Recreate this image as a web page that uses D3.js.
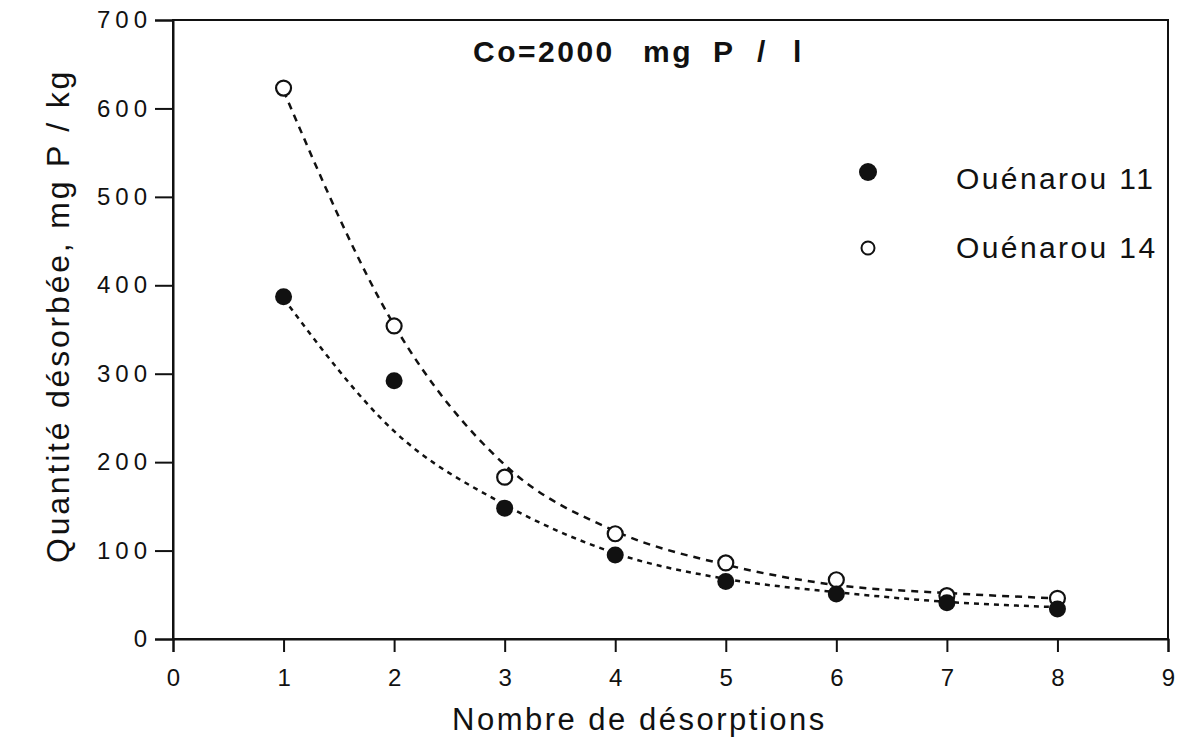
<!DOCTYPE html>
<html><head><meta charset="utf-8">
<script src="https://cdn.jsdelivr.net/npm/d3@7"></script>
<style>body{margin:0;background:#fff}svg{display:block}text{font-family:"Liberation Sans",Arial,sans-serif;fill:#111}</style>
</head><body>
<script>
const xs = [1,2,3,4,5,6,7,8];
const ouenarou11 = [387,292,148,95,65,51,41,34];
const ouenarou14 = [623,354,183,119,86,67,49,46];
const fit11 = [385,235,152,97,68,53,42,36];
const fit14 = [620,355,197,122,84,61,52,46];
const xTicks = [0,1,2,3,4,5,6,7,8,9];
const yTicks = [0,100,200,300,400,500,600,700];
const seriesNames = ["Ouénarou 11","Ouénarou 14"];
const titleWords = ["Co=2000","mg","P","/","l"];
const xTitle = "Nombre de désorptions";
const yTitle = "Quantité désorbée, mg P / kg";

const W=1184,H=741;
const svg=d3.select("body").append("svg").attr("width",W).attr("height",H);
const L=173,R=1168,T=20,B=639;
const x=d3.scaleLinear().domain([0,9]).range([L,R]);
const y=d3.scaleLinear().domain([0,700]).range([B,T]);

// frame
svg.append("rect").attr("x",L).attr("y",T).attr("width",R-L).attr("height",B-T)
  .attr("fill","none").attr("stroke","#111").attr("stroke-width",2);

const LS=5;
const xa=svg.append("g").attr("transform",`translate(0,${B})`)
  .call(d3.axisBottom(x).tickValues(xTicks).tickSize(13).tickPadding(17).tickFormat(d3.format("d")));
const ya=svg.append("g").attr("transform",`translate(${L},0)`)
  .call(d3.axisLeft(y).tickValues(yTicks).tickSize(18).tickPadding(3).tickFormat(d3.format("d")));
[xa,ya].forEach(a=>{
  a.select(".domain").attr("stroke","#111").attr("stroke-width",2);
  a.selectAll(".tick line").attr("stroke","#111").attr("stroke-width",2);
  a.selectAll(".tick text").attr("font-size",24).attr("fill","#111")
   .style("font-family","'Liberation Sans',Arial,sans-serif").attr("letter-spacing",LS+"px");
});
xa.selectAll(".tick text").attr("dx",LS/2);

// fitted dashed curves
const line=d3.line().x((d,i)=>x(xs[i])).y(d=>y(d)).curve(d3.curveMonotoneX);
svg.append("path").datum(fit14).attr("d",line).attr("fill","none").attr("stroke","#111")
  .attr("stroke-width",2.5).attr("stroke-dasharray","7,6");
svg.append("path").datum(fit11).attr("d",line).attr("fill","none").attr("stroke","#111")
  .attr("stroke-width",2.5).attr("stroke-dasharray","5,5");

// points
svg.append("g").selectAll("circle").data(ouenarou14).join("circle")
  .attr("cx",(d,i)=>x(xs[i])).attr("cy",d=>y(d)).attr("r",7.5)
  .attr("fill","#fff").attr("stroke","#111").attr("stroke-width",2.2);
svg.append("g").selectAll("circle").data(ouenarou11).join("circle")
  .attr("cx",(d,i)=>x(xs[i])).attr("cy",d=>y(d)).attr("r",8.5)
  .attr("fill","#111");

// title
const titleX=[473,643,713,757,793];
const tt=svg.append("text").attr("y",62).attr("font-size",30).attr("font-weight","bold").attr("letter-spacing","2.5px");
tt.selectAll("tspan").data(titleWords).join("tspan").attr("x",(d,i)=>titleX[i]).text(d=>d);

// legend
svg.append("circle").attr("cx",868).attr("cy",172).attr("r",9).attr("fill","#111");
svg.append("circle").attr("cx",868).attr("cy",248).attr("r",6.5).attr("fill","#fff").attr("stroke","#111").attr("stroke-width",2);
svg.append("text").attr("x",956).attr("y",189).attr("font-size",30).attr("letter-spacing","2.4px").text(seriesNames[0]);
svg.append("text").attr("x",956).attr("y",258).attr("font-size",30).attr("letter-spacing","2.4px").text(seriesNames[1]);

// axis titles
svg.append("text").attr("x",452).attr("y",730).attr("font-size",31).attr("letter-spacing","2.5px").text(xTitle);
svg.append("text").attr("transform",`translate(69,316) rotate(-90)`).attr("text-anchor","middle")
  .attr("font-size",32).attr("letter-spacing","2.8px").text(yTitle);
</script>
</body></html>
